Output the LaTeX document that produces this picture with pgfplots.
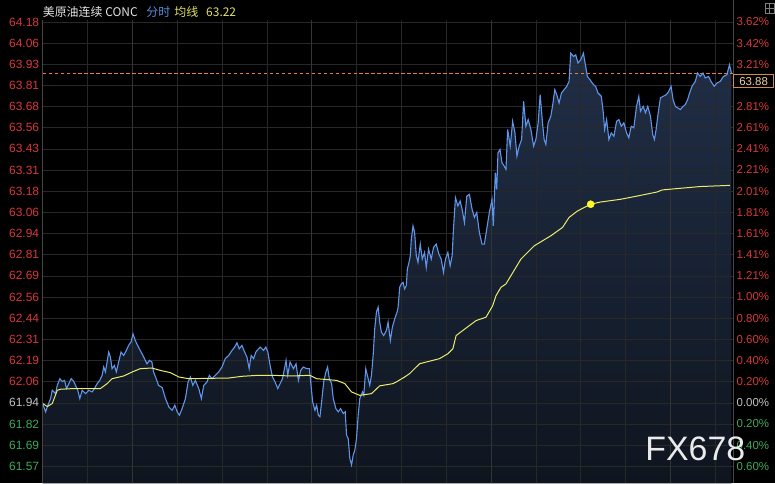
\documentclass[border=0pt]{standalone}
\usepackage{fontspec}
\setmainfont{Liberation Sans}
\newfontfamily\cjk{Noto Sans CJK SC}
\usepackage{xcolor}
\usepackage{pgfplots}
\pgfplotsset{compat=1.18}
\usepackage{pgfplotstable}

\definecolor{gridc}{RGB}{40,40,40}
\definecolor{gridm}{RGB}{52,52,52}
\definecolor{bordc}{RGB}{70,70,70}
\definecolor{upc}{RGB}{215,55,58}
\definecolor{dnc}{RGB}{60,170,88}
\definecolor{flatc}{RGB}{195,195,195}
\definecolor{pricec}{RGB}{95,150,235}
\definecolor{avgc}{RGB}{235,235,110}
\definecolor{dotc}{RGB}{255,250,40}
\definecolor{dashc}{RGB}{232,125,55}
\definecolor{boxc}{RGB}{210,140,80}
\definecolor{boxt}{RGB}{238,205,165}
\definecolor{filltop}{RGB}{32,46,70}
\definecolor{fillbot}{RGB}{15,21,31}
\definecolor{titlec}{RGB}{228,228,228}
\definecolor{titleb}{RGB}{90,140,220}
\definecolor{titley}{RGB}{225,225,100}

\newcommand\U[1]{\textcolor{upc}{#1}}
\newcommand\D[1]{\textcolor{dnc}{#1}}
\newcommand\F[1]{\textcolor{flatc}{#1}}

% intraday price, x = minutes index
\pgfplotstableread{
x y
0 61.936
3 61.887
4.7 61.918
8 61.965
9.7 62.014
13 61.994
14.7 62.043
17.3 62.082
19.7 62.065
22 62.072
24 62.024
26.3 62.053
28.7 62.082
31.3 62.065
33 62.043
35.3 62.014
37.3 61.965
39.7 62.014
43 61.994
46.3 62.014
49.7 62.004
52 62.024
54.7 62.053
57.3 62.072
59.7 62.102
61.3 62.151
63 62.122
64.7 62.180
66.3 62.239
68 62.210
69.7 62.141
72 62.160
74 62.122
76.3 62.180
78.7 62.239
81.3 62.219
84 62.248
86.3 62.278
88.7 62.298
90.7 62.346
93 62.307
95.3 62.278
98 62.248
100.7 62.219
103 62.190
104.7 62.170
107.3 62.190
109.7 62.180
111.3 62.122
114 62.082
116.3 62.043
120 62.030
123.3 61.965
126.7 61.916
130 61.896
132.7 61.926
135 61.887
137.3 61.867
140 61.906
143.3 61.965
146 62.063
148.3 62.092
150.7 62.043
153.3 62.072
156.7 62.024
159.3 61.965
161.7 62.043
165 62.063
167.3 62.102
170 62.082
173.3 62.102
176.7 62.122
180 62.151
183.3 62.200
186.7 62.219
190 62.248
192.7 62.268
195 62.293
197.3 62.258
200 62.278
202.7 62.239
205 62.210
207.3 62.141
209.3 62.219
211.7 62.200
214 62.239
216.7 62.258
218.3 62.268
221.7 62.248
224 62.268
226 62.239
228.3 62.160
230.7 62.092
233.3 62.063
236 62.024
238.3 62.053
240.7 62.082
242.7 62.141
244.3 62.190
246 62.102
248.3 62.180
251.7 62.141
254.3 62.170
256.7 62.072
259 62.131
261.7 62.151
265 62.141
267.7 62.141
269 62.063
271 61.946
273.3 61.896
275 61.926
276.7 61.867
278.3 61.858
280 61.946
281 62.004
282.3 62.072
284.3 62.122
286 62.151
287.7 62.082
290 62.053
291.7 61.965
294.3 61.906
296.7 61.887
299 61.906
301.7 61.877
303.7 61.887
305 61.750
306.7 61.730
308.3 61.613
310 61.574
311.7 61.633
313.3 61.662
315 61.730
316.7 61.867
318.3 61.965
321 62.004
322.3 61.984
324.3 62.141
326.7 62.082
328.3 62.043
330 62.102
331.7 62.219
333.3 62.376
335 62.474
336.7 62.503
338.3 62.415
340 62.356
342.3 62.336
345 62.366
346.7 62.415
349 62.307
351 62.386
353.3 62.434
355.7 62.474
356.7 62.500
357.7 62.571
358.3 62.620
360 62.640
361.7 62.649
363.3 62.610
365 62.630
366 62.727
367.7 62.767
369 62.806
370 62.903
371.7 62.981
373.3 62.943
375 62.806
376.7 62.767
379 62.874
381 62.786
383.3 62.825
385 62.737
387.3 62.845
390 62.786
392.3 62.855
395 62.874
397.7 62.815
400 62.786
402.3 62.708
404.3 62.786
406.7 62.825
409 62.747
411 62.806
412.3 62.962
414.3 63.148
416.7 63.099
419 63.128
421 63.079
423.3 63.001
425.7 63.157
428.3 63.167
431 63.079
433.3 63.031
435.7 63.060
438.3 62.943
441 62.874
443.3 62.874
445.7 62.962
448.3 63.060
451 63.138
452.3 62.981
454.3 63.295
455.7 63.197
457 63.412
459 63.431
461 63.353
463.3 63.333
465 63.314
466.7 63.549
469.3 63.451
471.7 63.597
474 63.529
476 63.392
478.3 63.451
480.7 63.490
482.7 63.715
485 63.568
487.3 63.607
490 63.549
492.7 63.451
495 63.490
497.3 63.588
499.3 63.754
501.7 63.588
503.3 63.490
505 63.461
507.3 63.588
510 63.627
511.7 63.685
514 63.783
516 63.754
518.3 63.705
520.7 63.764
523.3 63.783
526 63.803
528.3 63.832
530 63.998
532.7 63.979
535 63.988
537.3 63.940
540 63.959
542.7 63.998
545 63.920
546.7 63.861
549.3 63.842
552.7 63.813
555 63.803
557.3 63.764
560.7 63.744
562.7 63.647
564 63.549
566 63.607
568.3 63.490
570.7 63.529
573.3 63.509
576 63.597
578.3 63.607
580.7 63.568
583.3 63.588
586 63.529
588.3 63.500
590.7 63.568
593.3 63.559
596 63.685
598.3 63.744
600 63.656
602.7 63.685
605 63.647
607.3 63.685
610 63.627
612.3 63.519
614 63.490
615.7 63.549
617.3 63.627
620 63.735
622.7 63.744
626 63.754
628.3 63.773
630.7 63.803
632.7 63.725
635 63.685
637.3 63.676
640 63.666
642.7 63.685
645 63.695
647.3 63.725
649.3 63.764
651.7 63.803
655 63.832
657.3 63.881
660 63.861
662.7 63.881
665 63.852
668.3 63.861
670.7 63.832
674 63.803
676.7 63.822
680 63.832
683.3 63.861
686.7 63.871
689.3 63.930
691.3 63.881
}\price

% average line
\pgfplotstableread{
x y
0 61.936
4.7 61.918
9.7 61.936
14.7 62.014
18 62.020
31.3 62.024
58 62.024
64.7 62.053
69.7 62.082
81.3 62.098
91.3 62.125
98 62.141
109.7 62.145
118 62.131
128 62.118
136.7 62.092
146.7 62.082
186.7 62.086
200 62.096
216.7 62.102
230 62.102
250 62.098
268.3 62.102
275 62.082
295 62.072
303.3 62.053
310 62.004
318.3 61.984
330 61.994
338.3 62.040
351.7 62.053
355 62.063
363.3 62.092
368.3 62.112
378.3 62.170
398.3 62.200
406.7 62.229
411.7 62.258
415 62.336
421.7 62.366
435 62.424
445 62.444
451.7 62.512
455 62.571
460 62.620
465 62.640
480 62.786
493.3 62.864
510 62.923
521.7 62.972
528.3 63.031
536.7 63.069
550 63.109
560 63.122
580 63.138
596.7 63.157
616.7 63.181
621.7 63.193
636.7 63.201
660 63.213
690 63.220
}\avg

\begin{document}
\pagecolor{black}
\begin{tikzpicture}
\path (0,0) rectangle (775pt,485pt);

\begin{axis}[
  set layers,
  at={(40pt,0pt)}, anchor=south west,
  scale only axis, width=693pt, height=465pt,
  xmin=0, xmax=693, ymin=61.4665, ymax=64.1937,
  axis line style={draw=none},
  major tick length=0pt,
  xtick={0,45,...,675}, xticklabels={},
  extra x ticks={90,270,450,630}, extra x tick labels={},
  extra x tick style={grid style={draw=gridm, line width=0.7pt}},
  xmajorgrids, ymajorgrids,
  grid style={draw=gridc, line width=0.6pt},
  ytick={61.5663,61.6909,61.8154,61.94,62.0646,62.1891,62.3137,62.4382,62.5628,62.6874,62.8119,62.9365,63.0610,63.1856,63.3102,63.4347,63.5593,63.6838,63.8084,63.9330,64.0575,64.1821},
  yticklabels={\D{61.57},\D{61.69},\D{61.82},\F{61.94},\U{62.06},\U{62.19},\U{62.31},\U{62.44},\U{62.56},\U{62.69},\U{62.81},\U{62.94},\U{63.06},\U{63.18},\U{63.31},\U{63.43},\U{63.56},\U{63.68},\U{63.81},\U{63.93},\U{64.06},\U{64.18}},
  yticklabel style={font=\fontsize{12}{13}\selectfont},
]
\addplot[on layer=axis background, draw=none, top color=filltop, bottom color=fillbot]
  table {\price} -- (axis cs:691.3,61.4665) -- (axis cs:0,61.4665) -- cycle;
\addplot[dashc, line width=0.9pt, dash pattern=on 3.5pt off 2.5pt] coordinates {(0,63.88) (693,63.88)};
\addplot[pricec, line width=1.1pt] table {\price};
\addplot[avgc, line width=1pt] table {\avg};
\addplot[only marks, mark=*, mark size=3.6pt, color=dotc] coordinates {(550,63.109)};
\end{axis}

\begin{axis}[
  at={(40pt,0pt)}, anchor=south west,
  scale only axis, width=693pt, height=465pt,
  xmin=0, xmax=693, ymin=61.4665, ymax=64.1937,
  axis line style={draw=none},
  major tick length=0pt,
  xtick=\empty,
  ytick pos=right, yticklabel pos=right,
  ytick={61.5663,61.6909,61.8154,61.94,62.0646,62.1891,62.3137,62.4382,62.5628,62.6874,62.8119,62.9365,63.0610,63.1856,63.3102,63.4347,63.5593,63.6838,63.8084,63.9330,64.0575,64.1821},
  yticklabels={\D{0.60\%},\D{0.40\%},\D{0.20\%},\F{0.00\%},\U{0.20\%},\U{0.40\%},\U{0.60\%},\U{0.80\%},\U{1.00\%},\U{1.21\%},\U{1.41\%},\U{1.61\%},\U{1.81\%},\U{2.01\%},\U{2.21\%},\U{2.41\%},\U{2.61\%},\U{2.81\%},{},\U{3.21\%},\U{3.42\%},\U{3.62\%}},
  yticklabel style={font=\fontsize{11.5}{12}\selectfont},
]
\end{axis}

% borders
\draw[bordc, line width=0.7pt] (40pt,0pt) -- (40pt,465pt);
\draw[bordc, line width=0.7pt] (733pt,0pt) -- (733pt,485pt);

% last price box
\node[draw=boxc, fill=black, line width=0.7pt, text=boxt, inner sep=0pt,
  minimum width=40pt, minimum height=13pt, font=\fontsize{11.5}{12}\selectfont]
  at (753.5pt,403.5pt) {63.88};

% title
\node[anchor=west, inner sep=0pt, text=titlec, font=\cjk\fontsize{12}{14}\selectfont] at (40pt,473pt) {美原油连续 CONC};
\node[anchor=west, inner sep=0pt, text=titleb, font=\cjk\fontsize{12}{14}\selectfont] at (144pt,473pt) {分时};
\node[anchor=west, inner sep=0pt, text=titley, font=\cjk\fontsize{12}{14}\selectfont] at (172pt,473pt) {均线};
\node[anchor=west, inner sep=0pt, text=titley, font=\cjk\fontsize{12}{14}\selectfont] at (204pt,473pt) {63.22};

% corner icon
\draw[gray, line width=0.6pt] (765pt,472pt) rectangle (774pt,482pt);
\draw[gray, line width=0.5pt] (769.5pt,472pt) -- (769.5pt,482pt) (765pt,477pt) -- (774pt,477pt);

% watermark
\node[text={rgb,255:red,235;green,235;blue,235}, font=\fontsize{34}{36}\selectfont, inner sep=0pt]
  at (695pt,35pt) {FX678};

\pgfresetboundingbox
\useasboundingbox (0,0) rectangle (775pt,485pt);
\end{tikzpicture}
\end{document}
